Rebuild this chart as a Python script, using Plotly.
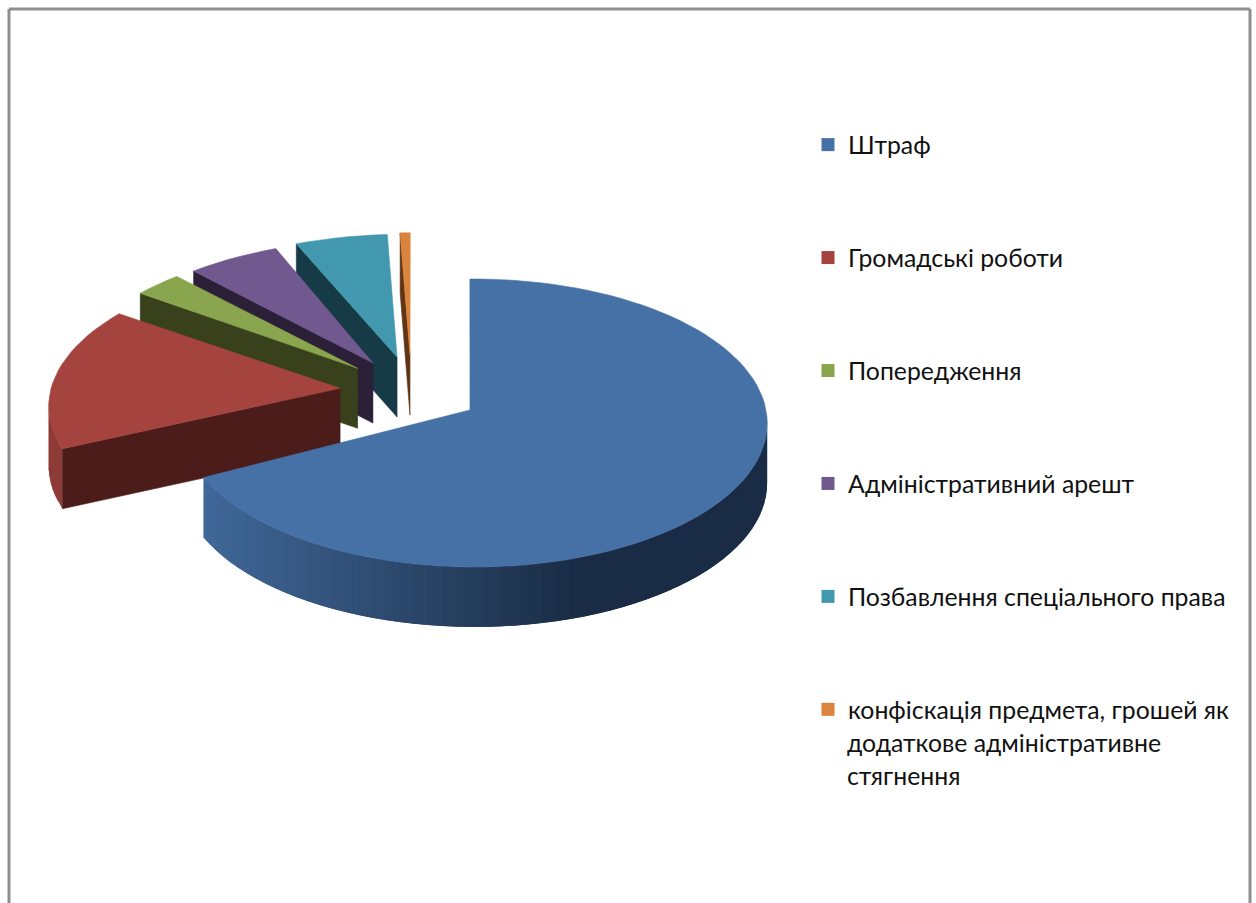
import math
import plotly.graph_objects as go

categories = ["Штраф", "Громадські роботи", "Попередження", "Адміністративний арешт",
              "Позбавлення спеціального права", "конфіскація предмета, грошей як"]
extra_label_lines = ["додаткове адміністративне", "стягнення"]
values = [67.4, 17.5, 2.8, 5.6, 5.7, 1.0]
top_colors = ["#4571a6", "#a5443f", "#89a54e", "#71588f", "#4198af", "#db843d"]
cut_colors = ["#1a2c45", "#4c1c1a", "#38411c", "#2b2038", "#163a46", "#5f3515"]
wall_left = ["#41699a", "#8e3b37", "#6f863f", "#5a4672", "#34788c", "#b06a30"]
wall_right = ["#1a2c45", "#4c1c1a", "#38411c", "#2b2038", "#163a46", "#5f3515"]
explode = [(0, 0), (-.445, -.154), (-.39, -.30), (-.338, -.339), (-.255, -.384), (-.21, -.398)]
rim_shift = [.015, 0, 0, 0, 0, 0]
rim_scale = [.985, .99, 1, 1, 1, 1]
start_adj = [-.9, 2.6, 0, 1, .5, .4]
end_adj = [.4, -1.3, .5, 1, .2, -1]

CX, CY, R, A, B, DEPTH = 470, 410, 296, 142.8, .0903, 60
FONT = "Lato"
FONT_SIZE = 24.8
TEXT_COLOR = "#111111"


def proj(u, v, z=0):
    w = 1 - B * v
    return CX + R * u / w, CY + A * v / w + z


def hex_mix(c1, c2, t):
    a = [int(c1[i:i + 2], 16) for i in (1, 3, 5)]
    b = [int(c2[i:i + 2], 16) for i in (1, 3, 5)]
    return "#%02x%02x%02x" % tuple(round(p + (q - p) * t) for p, q in zip(a, b))


fig = go.Figure()


def poly(pts, color, edge=0.6):
    fig.add_trace(go.Scatter(x=[p[0] for p in pts] + [pts[0][0]], y=[p[1] for p in pts] + [pts[0][1]],
                             mode="lines", fill="toself", fillcolor=color,
                             line=dict(color=color, width=edge), hoverinfo="skip", showlegend=False))


total = sum(values)
edges = [0]
for val in values:
    edges.append(edges[-1] + val / total * 2 * math.pi)

for i in reversed(range(len(values))):
    t0 = edges[i] + math.radians(start_adj[i])
    t1 = edges[i + 1] + math.radians(end_adj[i])
    ex, ey = explode[i]
    n = max(4, int((t1 - t0) / (2 * math.pi) * 140))
    ts = [t0 + (t1 - t0) * k / n for k in range(n + 1)]
    rim = [(ex + rim_shift[i] + rim_scale[i] * math.sin(t), ey - math.cos(t)) for t in ts]
    scr = [proj(u, v) for u, v in rim]
    # outer wall: drawn right to left, each band running under the next one to hide seams
    for k in range(n):
        p, q = scr[k], scr[k + 1]
        if q[0] < p[0]:
            s = (p[0] - 200) / 480
            col = hex_mix(wall_left[i], wall_right[i], min(1, max(0, s * 1.25)))
            r = scr[min(k + 2, n)]
            if r[0] >= q[0]:
                r = q
            poly([p, q, r, (r[0], r[1] + DEPTH), (q[0], q[1] + DEPTH), (p[0], p[1] + DEPTH)], col, edge=0)
    # cut face on the slice's starting edge
    if i > 0:
        a = proj(ex, ey)
        b = scr[0]
        poly([a, b, (b[0], b[1] + DEPTH), (a[0], a[1] + DEPTH)], cut_colors[i])
    # top surface
    poly([proj(ex, ey)] + scr, top_colors[i])

for name, col in zip(categories, top_colors):
    fig.add_trace(go.Scatter(x=[None], y=[None], mode="markers", name=name, legendgroup=name,
                             marker=dict(symbol="square", size=13, color=col, line=dict(width=0))))

fig.update_layout(
    width=1256, height=903, margin=dict(l=0, r=0, t=0, b=0),
    paper_bgcolor="white", plot_bgcolor="white",
    xaxis=dict(range=[0, 1256], visible=False, fixedrange=True),
    yaxis=dict(range=[903, 0], visible=False, fixedrange=True),
    font=dict(family=FONT, size=FONT_SIZE, color=TEXT_COLOR),
    legend=dict(x=808 / 1256, y=1 - 122 / 903, xanchor="left", yanchor="top", bgcolor="rgba(0,0,0,0)",
                tracegroupgap=77.7, itemsizing="trace", itemclick=False, itemdoubleclick=False,
                font=dict(family=FONT, size=FONT_SIZE, color=TEXT_COLOR)),
    annotations=[
        dict(text=line, x=845, y=y, xref="x", yref="y", xanchor="left", yanchor="middle", showarrow=False,
             font=dict(family=FONT, size=FONT_SIZE, color=TEXT_COLOR))
        for line, y in zip(extra_label_lines, (742, 775))
    ],
    shapes=[
        dict(type="line", xref="paper", yref="paper", x0=9 / 1256, x1=9 / 1256, y0=1 - 9 / 903, y1=0,
             line=dict(color="#8f8f8f", width=3)),
        dict(type="line", xref="paper", yref="paper", x0=9 / 1256, x1=1250 / 1256, y0=1 - 9 / 903, y1=1 - 9 / 903,
             line=dict(color="#8f8f8f", width=3)),
        dict(type="line", xref="paper", yref="paper", x0=1250 / 1256, x1=1250 / 1256, y0=1 - 9 / 903, y1=0,
             line=dict(color="#8f8f8f", width=3)),
    ],
)
fig.write_html("out.html", config=dict(displayModeBar=False),
               post_script="document.body.style.margin='0';")
